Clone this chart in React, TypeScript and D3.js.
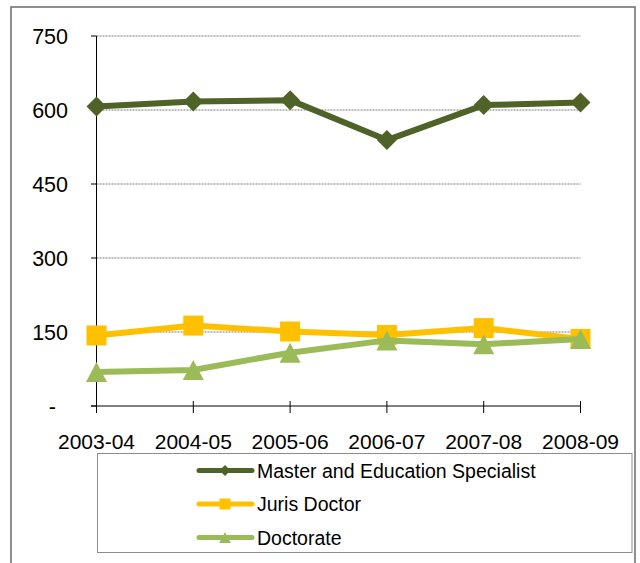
import React from "react";
import * as d3 from "d3";

const categories = ["2003-04", "2004-05", "2005-06", "2006-07", "2007-08", "2008-09"];
const masterValues = [607, 617, 620, 539, 610, 615];
const jurisValues = [143, 163, 151, 144, 158, 136];
const doctorateValues = [69, 73, 108, 133, 125, 136];
const yTicks = [0, 150, 300, 450, 600, 750];
const seriesNames = ["Master and Education Specialist", "Juris Doctor", "Doctorate"];
const seriesColors = ["#4F6228", "#FFC000", "#9BBB59"];
const seriesShapes = ["diamond", "square", "triangle"];

const FONT = "'Liberation Sans', Arial, sans-serif";

function marker(shape: string, cx: number, cy: number, r: number, color: string, key: string) {
  if (shape === "diamond") {
    const pts = [[cx, cy - r], [cx + r, cy], [cx, cy + r], [cx - r, cy]].map(p => p.join(",")).join(" ");
    return <polygon key={key} points={pts} fill={color} />;
  }
  if (shape === "square") {
    return <rect key={key} x={cx - r} y={cy - r} width={2 * r} height={2 * r} fill={color} />;
  }
  const pts = [[cx, cy - r], [cx + r * 1.05, cy + r], [cx - r * 1.05, cy + r]].map(p => p.join(",")).join(" ");
  return <polygon key={key} points={pts} fill={color} />;
}

export default function App() {
  const x = d3.scalePoint<string>().domain(categories).range([96.5, 580.5]);
  const y = d3.scaleLinear().domain([0, 750]).range([406, 36]);
  const allSeries = [masterValues, jurisValues, doctorateValues];
  const line = d3.line<number>().x((_, i) => x(categories[i]) as number).y(d => y(d));
  const legendRows = [470.5, 504, 537.5];

  return (
    <svg width={640} height={563} style={{ position: "absolute", left: 0, top: 0 }} fontFamily={FONT}>
      <rect x={0} y={0} width={640} height={563} fill="#fff" />
      <rect x={11} y={7} width={624} height={600} fill="none" stroke="#6b6b6b" strokeWidth={1.5} />
      {/* gridlines */}
      {yTicks.filter(t => t > 0).map(t => (
        <line key={"g" + t} x1={96.5} x2={580.5} y1={y(t)} y2={y(t)} stroke="#7a7a7a" strokeWidth={1} strokeDasharray="2,1" />
      ))}
      {/* y axis */}
      <line x1={96.5} x2={96.5} y1={y(750)} y2={y(0)} stroke="#000" strokeWidth={1} />
      {yTicks.map(t => (
        <line key={"yt" + t} x1={91} x2={96.5} y1={y(t)} y2={y(t)} stroke="#000" strokeWidth={1} />
      ))}
      {yTicks.map(t => (
        <text key={"yl" + t} x={t === 0 ? 56 : 68} y={y(t)} dy="0.36em" textAnchor="end" fontSize={21.5} fill="#000">
          {t === 0 ? "-" : String(t)}
        </text>
      ))}
      {/* x axis */}
      <line x1={91} x2={580.5} y1={y(0)} y2={y(0)} stroke="#000" strokeWidth={1} />
      {categories.map(c => (
        <line key={"xt" + c} x1={x(c)} x2={x(c)} y1={y(0) - 5} y2={y(0) + 7} stroke="#000" strokeWidth={1} />
      ))}
      {categories.map(c => (
        <text key={"xl" + c} x={x(c)} y={449} textAnchor="middle" fontSize={21} fill="#000">{c}</text>
      ))}
      {/* series */}
      {allSeries.map((vals, si) => (
        <g key={"s" + si}>
          <path d={line(vals) || ""} fill="none" stroke={seriesColors[si]} strokeWidth={6} strokeLinejoin="round" />
          {vals.map((v, i) => marker(seriesShapes[si], x(categories[i]) as number, y(v), 10, seriesColors[si], "m" + si + "-" + i))}
        </g>
      ))}
      {/* legend */}
      <rect x={97.5} y={453.5} width={534.5} height={99} fill="#fff" stroke="#8c8c8c" strokeWidth={1} />
      {seriesNames.map((n, si) => (
        <g key={"lg" + si}>
          <line x1={199} x2={252} y1={legendRows[si]} y2={legendRows[si]} stroke={seriesColors[si]} strokeWidth={5} strokeLinecap="round" />
          {marker(seriesShapes[si], 225, legendRows[si], 5.5, seriesColors[si], "lm" + si)}
          <text x={257} y={legendRows[si]} dy="0.36em" fontSize={19.5} fill="#000">{n}</text>
        </g>
      ))}
    </svg>
  );
}
